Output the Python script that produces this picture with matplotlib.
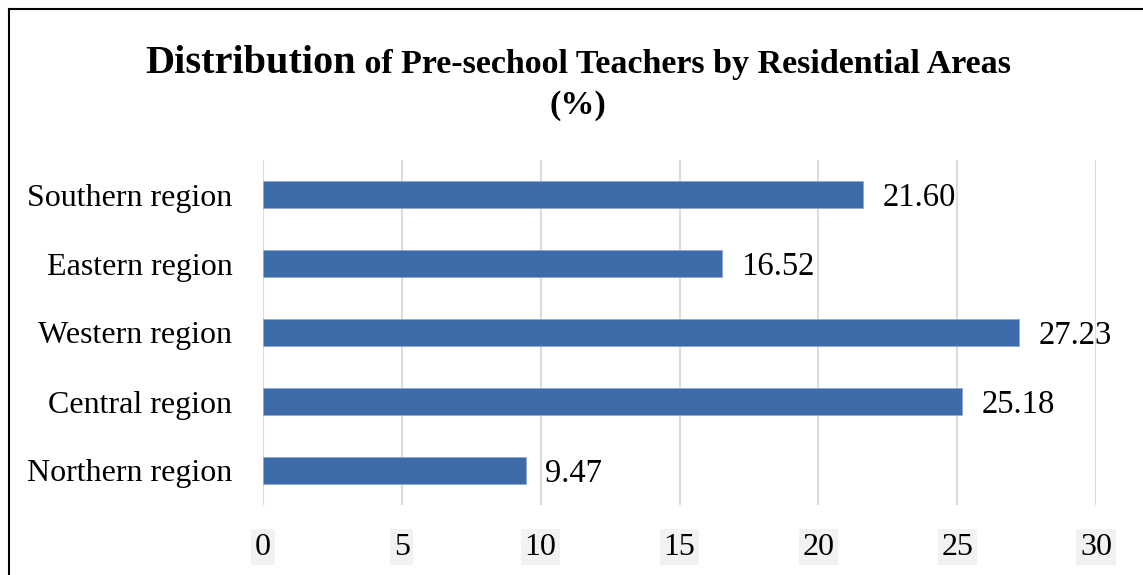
import matplotlib
matplotlib.use("Agg")
import matplotlib.pyplot as plt
from matplotlib.lines import Line2D

plt.rcParams['font.family'] = ['Liberation Serif', 'DejaVu Serif']

# data
regions = ['Northern region', 'Central region', 'Western region',
           'Eastern region', 'Southern region']
shares = [9.47, 25.18, 27.23, 16.52, 21.60]
xticks = [0, 5, 10, 15, 20, 25, 30]

W, H = 1143, 575
fig = plt.figure(figsize=(W / 100, H / 100), dpi=100)
ax = fig.add_axes([263 / W, 70 / H, (1096 - 263) / W, (505 - 160) / H])

pos = range(len(regions))
ax.barh(pos, shares, height=0.4, color='#3d6aa8', edgecolor='#8fa9d0',
        linewidth=0.6, zorder=3)
for p, v in zip(pos, shares):
    ax.text(v + 0.7, p, f'{v:.2f}', va='center_baseline', ha='left',
            fontsize=23.5)

ax.set_xlim(0, 30)
ax.set_ylim(-0.5, 4.5)
ax.set_xticks(xticks)
ax.set_yticks(list(pos))
ax.set_yticklabels(regions, fontsize=23)
ax.set_xticklabels([str(t) for t in xticks], fontsize=23)
for lab in ax.get_xticklabels():
    lab.set_bbox(dict(facecolor='#f2f2f2', edgecolor='none', pad=2.5))
ax.tick_params(axis='both', length=0)
ax.tick_params(axis='x', pad=20)
ax.tick_params(axis='y', pad=22)
ax.xaxis.grid(True, color='#dcdcdc', linewidth=1.5, zorder=0)
ax.set_axisbelow(True)
for s in ax.spines.values():
    s.set_visible(False)

# title: mixed sizes on first line
t1 = fig.text(0, 1 - 73 / H, 'Distribution', fontsize=29, fontweight='bold',
              ha='left', va='baseline')
t2 = fig.text(0, 1 - 73 / H, ' of Pre-sechool Teachers by Residential Areas',
              fontsize=24.5, fontweight='bold', ha='left', va='baseline')
fig.canvas.draw()
r = fig.canvas.get_renderer()
w1 = t1.get_window_extent(r).width
w2 = t2.get_window_extent(r).width
x0 = 578 - (w1 + w2) / 2
t1.set_x(x0 / W)
t2.set_x((x0 + w1) / W)
fig.text(578 / W, 1 - 114 / H, '(%)', fontsize=24.5, fontweight='bold',
         ha='center', va='baseline')

# frame (left and top edges only visible)
fig.add_artist(Line2D([9 / W, 9 / W], [0, 1 - 9 / H], color='black',
                      linewidth=1.5, transform=fig.transFigure))
fig.add_artist(Line2D([9 / W, 1], [1 - 9 / H, 1 - 9 / H], color='black',
                      linewidth=1.5, transform=fig.transFigure))

fig.savefig('out.png', dpi=100)
